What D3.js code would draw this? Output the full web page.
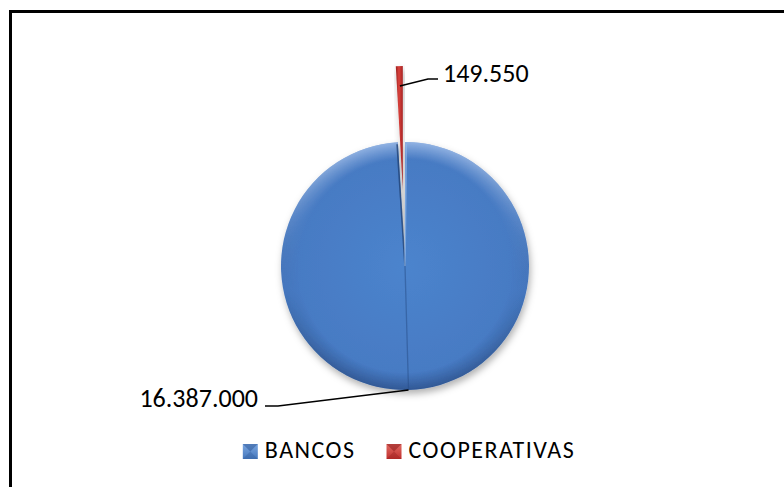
<!DOCTYPE html>
<html>
<head>
<meta charset="utf-8">
<script src="https://cdn.jsdelivr.net/npm/d3@7"></script>
<style>
  html, body { margin: 0; padding: 0; background: #fff; }
  svg { display: block; }
  text { font-family: Carlito, Calibri, Lato, sans-serif; fill: #000; }
</style>
</head>
<body>
<svg id="chart" width="784" height="487"></svg>
<script>
// Data
const categories = ["BANCOS", "COOPERATIVAS"];
const values = [16387000, 149550];
const explode = [0, 76];          // pixel offset of each slice along its mid-angle

const cx = 405, cy = 266, R = 124;

const svg = d3.select("#chart");
const defs = svg.append("defs");

// number format: "." as thousands separator
const fmt = d3.formatLocale({ decimal: ",", thousands: ".", grouping: [3], currency: ["", ""] }).format(",d");

// frame
svg.append("rect")
  .attr("x", 10.5).attr("y", 11.5)
  .attr("width", 820).attr("height", 520)
  .attr("fill", "#fff").attr("stroke", "#000").attr("stroke-width", 3);

// soft shadow under the pie
const sh = defs.append("filter").attr("id", "shadow")
  .attr("x", "-20%").attr("y", "-20%").attr("width", "140%").attr("height", "140%");
sh.append("feDropShadow").attr("dx", 1.5).attr("dy", 4).attr("stdDeviation", 3.5)
  .attr("flood-color", "#000").attr("flood-opacity", 0.3);

// slice body gradients
const gBlue = defs.append("radialGradient").attr("id", "gBlue")
  .attr("gradientUnits", "userSpaceOnUse")
  .attr("cx", 0).attr("cy", 0).attr("r", R);
gBlue.append("stop").attr("offset", "0%").attr("stop-color", "#4c84cd");
gBlue.append("stop").attr("offset", "100%").attr("stop-color", "#4679c2");

const gRed = defs.append("linearGradient").attr("id", "gRed")
  .attr("x1", "0%").attr("x2", "100%").attr("y1", "0%").attr("y2", "0%");
gRed.append("stop").attr("offset", "0%").attr("stop-color", "#9c1f1f");
gRed.append("stop").attr("offset", "45%").attr("stop-color", "#d9423c");
gRed.append("stop").attr("offset", "100%").attr("stop-color", "#a62424");

// rim bevel: lighter at the top edge, darker at the bottom edge, fading inwards
const gRim = defs.append("linearGradient").attr("id", "gRim")
  .attr("gradientUnits", "userSpaceOnUse")
  .attr("x1", 0).attr("x2", 0).attr("y1", -R).attr("y2", R);
gRim.append("stop").attr("offset", "0%").attr("stop-color", "#cfe2ff").attr("stop-opacity", 0.55);
gRim.append("stop").attr("offset", "30%").attr("stop-color", "#ffffff").attr("stop-opacity", 0.12);
gRim.append("stop").attr("offset", "60%").attr("stop-color", "#000000").attr("stop-opacity", 0.02);
gRim.append("stop").attr("offset", "100%").attr("stop-color", "#0a1a40").attr("stop-opacity", 0.35);

const rimFade = defs.append("radialGradient").attr("id", "rimFade")
  .attr("gradientUnits", "userSpaceOnUse")
  .attr("cx", 0).attr("cy", 0).attr("r", R);
rimFade.append("stop").attr("offset", "86%").attr("stop-color", "#000");
rimFade.append("stop").attr("offset", "100%").attr("stop-color", "#fff");
defs.append("mask").attr("id", "rimMask")
  .attr("maskUnits", "userSpaceOnUse")
  .attr("x", -R - 5).attr("y", -R - 5).attr("width", 2 * R + 10).attr("height", 2 * R + 10)
  .append("rect")
  .attr("x", -R - 5).attr("y", -R - 5).attr("width", 2 * R + 10).attr("height", 2 * R + 10)
  .attr("fill", "url(#rimFade)");

const pie = d3.pie().sort(null).startAngle(0).endAngle(2 * Math.PI);
const arcs = pie(values);
const arc = d3.arc().innerRadius(0).outerRadius(R);

const mid = d => (d.startAngle + d.endAngle) / 2;
const offsetOf = (d, i) => [Math.sin(mid(d)) * explode[i], -Math.cos(mid(d)) * explode[i]];

const pieG = svg.append("g").attr("transform", `translate(${cx},${cy})`);

const slices = pieG.selectAll("g.slice").data(arcs).join("g")
  .attr("class", "slice")
  .attr("filter", "url(#shadow)")
  .attr("transform", (d, i) => `translate(${offsetOf(d, i)})`);

slices.append("path")
  .attr("d", arc)
  .attr("fill", (d, i) => i === 0 ? "url(#gBlue)" : "url(#gRed)");

slices.filter((d, i) => i === 0).append("path")
  .attr("d", arc)
  .attr("fill", "url(#gRim)")
  .attr("mask", "url(#rimMask)");

// bevel edges along the radial sides and the fold line of the large slice
const big = arcs[0];
const rad = (a, r) => [Math.sin(a) * r, -Math.cos(a) * r];
const edges = pieG.append("g");
edges.append("line")
  .attr("x1", 0).attr("y1", 0)
  .attr("x2", rad(big.endAngle - 0.008, R - 2)[0]).attr("y2", rad(big.endAngle - 0.008, R - 2)[1])
  .attr("stroke", "#1f3f70").attr("stroke-opacity", 0.75).attr("stroke-width", 1.6);
edges.append("line")
  .attr("x1", 0).attr("y1", 0)
  .attr("x2", rad(big.startAngle + 0.01, R - 2)[0]).attr("y2", rad(big.startAngle + 0.01, R - 2)[1])
  .attr("stroke", "#8fb6ea").attr("stroke-opacity", 0.7).attr("stroke-width", 1.6);
edges.append("line")
  .attr("x1", 0).attr("y1", 0)
  .attr("x2", rad(mid(big), R - 1)[0]).attr("y2", rad(mid(big), R - 1)[1])
  .attr("stroke", "#264c86").attr("stroke-opacity", 0.5).attr("stroke-width", 1.3);

// data labels with leader lines
const labelG = svg.append("g");
const labelPos = [
  { anchor: "end", tx: 258, ty: 407, elbowX: 278, elbowY: 406, endX: 265, rFrac: 1.0 },
  { anchor: "start", tx: 443, ty: 82, elbowX: 428, elbowY: 79, endX: 438, rFrac: 0.84 }
];
arcs.forEach((d, i) => {
  const p = labelPos[i];
  const off = offsetOf(d, i);
  const pt = rad(mid(d), R * p.rFrac);
  const sx = cx + off[0] + pt[0], sy = cy + off[1] + pt[1];
  labelG.append("path")
    .attr("d", d3.line()([[sx, sy], [p.elbowX, p.elbowY], [p.endX, p.elbowY]]))
    .attr("fill", "none").attr("stroke", "#000").attr("stroke-width", 1.5);
  labelG.append("text")
    .attr("x", p.tx).attr("y", p.ty)
    .attr("text-anchor", p.anchor)
    .attr("font-size", 26)
    .text(fmt(values[i]));
});

// legend
const mGrad = (id, light, base) => {
  const g = defs.append("linearGradient").attr("id", id)
    .attr("x1", 0).attr("x2", 0).attr("y1", 0).attr("y2", 1);
  g.append("stop").attr("offset", "0%").attr("stop-color", light);
  g.append("stop").attr("offset", "100%").attr("stop-color", base);
};
mGrad("mBlue", "#7aa6e0", "#4678bd");
mGrad("mRed", "#e06a63", "#c0302e");
const markerDark = ["#2f5a99", "#8e1c1c"];

const legend = svg.append("g");
const ms = 15, gapText = 7, gapItem = 31, legendY = 444;
let x = 0;
const items = categories.map((c, i) => {
  const g = legend.append("g");
  g.append("rect").attr("x", 0).attr("y", 0).attr("width", ms).attr("height", ms)
    .attr("fill", i === 0 ? "url(#mBlue)" : "url(#mRed)");
  g.append("path")
    .attr("d", d3.line()([[0, 0], [ms, 0], [ms / 2, ms / 2]]) + "Z")
    .attr("fill", markerDark[i]).attr("fill-opacity", 0.55);
  g.append("path")
    .attr("d", d3.line()([[0, ms], [ms, ms], [ms / 2, ms / 2]]) + "Z")
    .attr("fill", markerDark[i]).attr("fill-opacity", 0.35);
  const t = g.append("text").attr("x", ms + gapText).attr("y", ms - 1)
    .attr("font-size", 24).attr("letter-spacing", 1.5).text(c);
  const w = ms + gapText + t.node().getComputedTextLength();
  const item = { g, x };
  x += w + gapItem;
  return item;
});
const total = x - gapItem;
const lx0 = 409 - total / 2;
items.forEach(it => it.g.attr("transform", `translate(${lx0 + it.x},${legendY})`));
</script>
</body>
</html>
